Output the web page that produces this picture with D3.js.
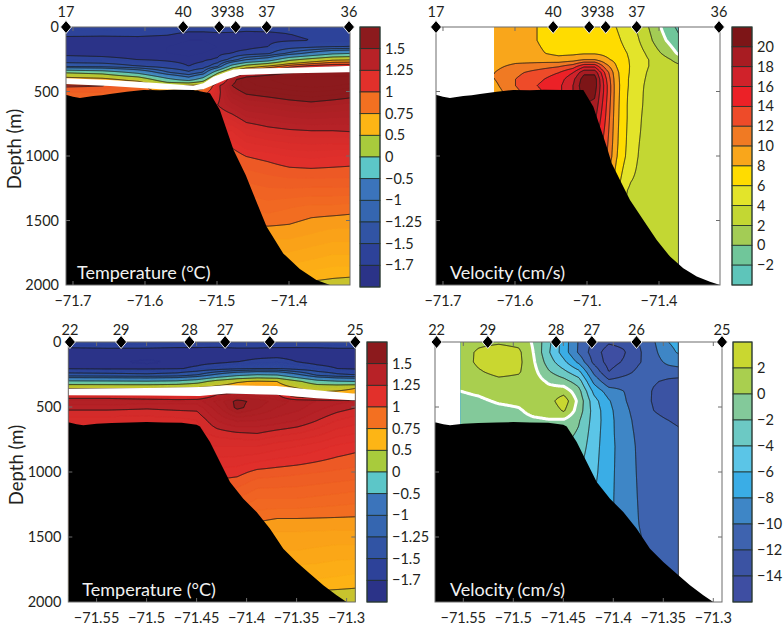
<!DOCTYPE html>
<html>
<head>
<meta charset="utf-8">
<script src="https://cdn.jsdelivr.net/npm/d3@7"></script>
<style>
  body { margin: 0; background: #fff; }
  text { font-family: Lato, "Open Sans", sans-serif; fill: #231f20; }
</style>
</head>
<body>
<script>
// ---------- Section A (stations 17-36) ----------
const stationLabelsA = ["17", "40", "39", "38", "37", "36"];
const stationLonA = [-71.7097, -71.547, -71.497, -71.474, -71.431, -71.3167];
const lonTicksA = [-71.7, -71.6, -71.5, -71.4];
const lonTickLabelsTempA = ["−71.7", "−71.6", "−71.5", "−71.4"];
const lonTickLabelsVelA = ["−71.7", "−71.6", "−71.", "−71.4"];

// Seafloor depth along section A (temperature grid)
const bathyLonTempA = [-71.72, -71.7088, -71.70, -71.6903, -71.6718, -71.66, -71.6486, -71.6254, -71.6024, -71.5792, -71.56, -71.5329, -71.5097, -71.496, -71.477, -71.46, -71.45, -71.431, -71.408, -71.385, -71.362, -71.343, -71.30];
const bathyDepTempA = [527, 527, 540, 550, 535, 530, 519, 501, 488, 490, 486, 488, 514, 643, 953, 1150, 1289, 1548, 1755, 1876, 1961, 2000, 2000];
// Seafloor depth along section A (velocity grid)
const bathyLonVelA = [-71.72, -71.7088, -71.70, -71.6903, -71.6718, -71.66, -71.6486, -71.6254, -71.6024, -71.5792, -71.56, -71.5329, -71.5051, -71.4912, -71.4819, -71.4726, -71.4657, -71.4542, -71.4403, -71.4218, -71.4032, -71.3847, -71.3663, -71.3476, -71.3292, -71.3153, -71.30];
const bathyDepVelA = [527, 527, 540, 550, 535, 530, 519, 501, 488, 490, 486, 488, 488, 618, 773, 928, 1057, 1186, 1341, 1496, 1651, 1780, 1870, 1935, 1974, 2000, 2000];

// Gap between upper and lower temperature records, section A
const bandLonA = [-71.72, -71.7088, -71.6486, -71.5792, -71.533, -71.519, -71.505, -71.4865, -71.477, -71.468, -71.394, -71.32, -71.30];
const bandTopA = [398, 398, 411, 437, 455, 437, 385, 346, 330, 325, 315, 302, 302];
const bandBotA = [442, 442, 457, 483, 490, 483, 450, 405, 390, 372, 359, 351, 351];

// Temperature (°C), section A
const tempLonA = [-71.715, -71.66, -71.61, -71.57, -71.54, -71.52, -71.50, -71.48, -71.46, -71.43, -71.40, -71.37, -71.34, -71.31];
const tempDepA = [0, 50, 100, 150, 200, 250, 300, 350, 400, 450, 500, 600, 800, 1000, 1200, 1400, 1600, 1800, 2000];
const tempA = [
  [-1.62, -1.63, -1.64, -1.64, -1.66, -1.66, -1.66, -1.67, -1.67, -1.66, -1.65, -1.64, -1.64, -1.63],
  [-1.68, -1.69, -1.68, -1.69, -1.72, -1.72, -1.71, -1.71, -1.72, -1.72, -1.70, -1.69, -1.68, -1.68],
  [-1.73, -1.72, -1.73, -1.74, -1.75, -1.75, -1.74, -1.74, -1.73, -1.72, -1.71, -1.70, -1.69, -1.68],
  [-1.75, -1.74, -1.75, -1.75, -1.76, -1.76, -1.75, -1.74, -1.74, -1.70, -1.60, -1.55, -1.50, -1.48],
  [-1.72, -1.73, -1.74, -1.75, -1.76, -1.75, -1.74, -1.70, -1.65, -1.55, -1.20, -0.90, -0.60, -0.50],
  [-1.66, -1.67, -1.70, -1.72, -1.74, -1.72, -1.68, -1.40, -1.00, -0.75, -0.10, 0.20, 0.45, 0.50],
  [-1.30, -1.35, -1.50, -1.62, -1.70, -1.65, -1.30, -0.30, 0.20, 0.55, 0.90, 1.10, 1.20, 1.20],
  [0.00, -0.15, -0.60, -1.20, -1.45, -1.20, -0.10, 0.80, 1.30, 1.40, 1.50, 1.55, 1.60, 1.60],
  [0.70, 0.60, 0.30, -0.40, -0.80, -0.30, 0.80, 1.45, 1.60, 1.65, 1.68, 1.70, 1.70, 1.70],
  [1.03, 1.01, 0.88, 0.40, 0.55, 0.60, 1.20, 1.50, 1.58, 1.62, 1.65, 1.67, 1.66, 1.62],
  [0.90, 0.90, 0.86, 0.70, 0.65, 0.90, 1.20, 1.45, 1.52, 1.55, 1.58, 1.60, 1.58, 1.55],
  [0.88, 0.88, 0.85, 0.75, 0.80, 1.00, 1.25, 1.33, 1.40, 1.42, 1.45, 1.47, 1.45, 1.43],
  [0.88, 0.88, 0.85, 0.80, 0.90, 1.00, 1.10, 1.10, 1.18, 1.22, 1.24, 1.25, 1.25, 1.26],
  [0.85, 0.85, 0.85, 0.85, 0.90, 0.95, 0.95, 0.95, 1.00, 1.02, 1.05, 1.06, 1.05, 1.04],
  [0.85, 0.85, 0.85, 0.85, 0.88, 0.88, 0.88, 0.88, 0.90, 0.92, 0.93, 0.93, 0.93, 0.93],
  [0.80, 0.80, 0.80, 0.80, 0.80, 0.80, 0.80, 0.80, 0.80, 0.82, 0.80, 0.78, 0.78, 0.77],
  [0.72, 0.72, 0.72, 0.72, 0.72, 0.72, 0.72, 0.72, 0.72, 0.72, 0.72, 0.70, 0.68, 0.68],
  [0.62, 0.62, 0.62, 0.62, 0.62, 0.62, 0.62, 0.62, 0.62, 0.62, 0.62, 0.60, 0.58, 0.58],
  [0.50, 0.50, 0.50, 0.50, 0.50, 0.50, 0.50, 0.50, 0.50, 0.50, 0.50, 0.48, 0.47, 0.46]
];

// Velocity (cm/s), section A
const velLonA = [-71.629, -71.60, -71.57, -71.54, -71.52, -71.505, -71.49, -71.475, -71.46, -71.445, -71.43, -71.415, -71.40, -71.373];
const velDepA = [0, 100, 200, 250, 300, 350, 400, 450, 500, 600, 700, 800, 900, 1000, 1200, 1500, 2000];
const velA = [
  [9.0, 8.8, 8.0, 7.0, 7.0, 7.0, 7.0, 6.8, 6.0, 4.8, 3.7, 2.0, 0.2, -2.5],
  [9.0, 8.8, 8.0, 7.0, 7.0, 7.0, 7.2, 7.2, 6.5, 5.3, 4.2, 2.6, 0.8, -1.5],
  [9.0, 9.0, 8.3, 7.5, 7.6, 7.8, 7.8, 7.5, 7.0, 6.0, 4.8, 3.6, 2.2, -0.3],
  [9.0, 9.3, 9.2, 8.8, 9.2, 10.0, 10.0, 8.5, 7.4, 6.2, 5.0, 4.0, 3.2, 1.2],
  [9.5, 10.5, 11.0, 11.8, 13.0, 15.5, 15.5, 11.0, 8.0, 6.3, 5.0, 4.0, 3.4, 2.4],
  [10.0, 11.5, 12.8, 14.0, 16.0, 19.5, 19.5, 13.5, 8.5, 6.3, 4.8, 3.8, 3.3, 2.8],
  [10.0, 12.0, 13.5, 15.0, 17.5, 21.0, 21.0, 14.5, 8.7, 6.2, 4.6, 3.7, 3.2, 3.0],
  [9.5, 12.0, 14.0, 15.5, 18.0, 21.5, 21.0, 15.0, 8.8, 6.2, 4.5, 3.6, 3.2, 3.0],
  [9.0, 11.5, 13.5, 15.5, 18.0, 21.0, 20.5, 15.0, 8.8, 6.1, 4.5, 3.5, 3.2, 3.0],
  [9.0, 11.5, 13.5, 15.5, 18.0, 20.0, 19.5, 14.5, 8.7, 6.0, 4.4, 3.5, 3.1, 3.0],
  [9.0, 11.5, 13.5, 15.5, 17.5, 19.0, 18.5, 14.0, 8.6, 6.0, 4.3, 3.4, 3.1, 3.0],
  [9.0, 11.5, 13.5, 15.5, 17.0, 18.0, 17.5, 13.5, 8.5, 5.9, 4.2, 3.4, 3.1, 3.0],
  [9.0, 11.5, 13.5, 15.0, 16.0, 17.0, 16.5, 13.0, 8.4, 5.8, 4.1, 3.3, 3.0, 3.0],
  [9.0, 11.0, 13.0, 14.0, 15.0, 15.5, 15.0, 12.5, 8.2, 5.6, 4.0, 3.3, 3.0, 3.0],
  [8.0, 10.0, 12.0, 12.0, 12.0, 12.0, 11.5, 10.0, 7.0, 4.2, 3.6, 3.2, 3.0, 3.0],
  [3.5, 3.5, 3.5, 3.5, 3.5, 3.5, 3.5, 3.5, 3.4, 3.3, 3.2, 3.1, 3.0, 3.0],
  [3.0, 3.0, 3.0, 3.0, 3.0, 3.0, 3.0, 3.0, 3.0, 3.0, 3.0, 3.0, 3.0, 3.0]
];

// ---------- Section B (stations 22-25) ----------
const stationLabelsB = ["22", "29", "28", "27", "26", "25"];
const stationLonB = [-71.5767, -71.5255, -71.4572, -71.4215, -71.3768, -71.2913];
const lonTicksB = [-71.55, -71.5, -71.45, -71.4, -71.35, -71.3];
const lonTickLabelsB = ["−71.55", "−71.5", "−71.45", "−71.4", "−71.35", "−71.3"];

const bathyLonB = [-71.59, -71.5773, -71.57, -71.5633, -71.55, -71.535, -71.5166, -71.50, -71.4833, -71.465, -71.45, -71.4466, -71.4366, -71.4266, -71.4166, -71.4033, -71.39, -71.3766, -71.3633, -71.35, -71.3366, -71.3233, -71.31, -71.30, -71.28];
const bathyDepB = [620, 620, 632, 641, 628, 624, 620, 616, 620, 622, 636, 650, 769, 923, 1077, 1205, 1308, 1436, 1590, 1692, 1782, 1872, 1949, 2000, 2000];

const bandLonB = [-71.59, -71.5773, -71.50, -71.4467, -71.42, -71.37, -71.33, -71.294, -71.28];
const bandTopB = [359, 359, 353, 346, 333, 338, 372, 397, 397];
const bandBotB = [410, 410, 412, 415, 397, 405, 432, 448, 448];

// Temperature (°C), section B
const tempLonB = [-71.58, -71.54, -71.50, -71.47, -71.45, -71.43, -71.41, -71.39, -71.37, -71.35, -71.33, -71.31, -71.29];
const tempDepB = [0, 50, 100, 150, 200, 250, 300, 350, 400, 450, 500, 600, 700, 800, 1000, 1200, 1400, 1600, 1800, 2000];
const tempB = [
  [-1.62, -1.62, -1.63, -1.63, -1.63, -1.64, -1.64, -1.64, -1.63, -1.63, -1.62, -1.62, -1.62],
  [-1.72, -1.71, -1.71, -1.72, -1.72, -1.72, -1.71, -1.71, -1.72, -1.72, -1.72, -1.71, -1.71],
  [-1.74, -1.73, -1.73, -1.74, -1.74, -1.73, -1.73, -1.72, -1.72, -1.73, -1.74, -1.74, -1.74],
  [-1.73, -1.74, -1.76, -1.74, -1.73, -1.72, -1.70, -1.68, -1.66, -1.70, -1.73, -1.74, -1.74],
  [-1.71, -1.72, -1.72, -1.71, -1.68, -1.62, -1.55, -1.50, -1.50, -1.60, -1.66, -1.70, -1.72],
  [-1.40, -1.42, -1.45, -1.40, -1.25, -0.90, -0.60, -0.45, -0.50, -0.90, -1.30, -1.45, -1.50],
  [-0.40, -0.42, -0.45, -0.40, -0.20, 0.20, 0.45, 0.55, 0.50, 0.10, -0.30, -0.45, -0.50],
  [0.45, 0.45, 0.45, 0.50, 0.55, 0.65, 0.75, 0.75, 0.70, 0.50, 0.35, 0.40, 0.50],
  [1.10, 1.10, 1.05, 1.00, 1.00, 1.25, 1.38, 1.38, 1.30, 0.70, 0.60, 0.62, 0.65],
  [1.35, 1.35, 1.33, 1.32, 1.33, 1.42, 1.52, 1.48, 1.43, 1.38, 1.35, 1.32, 1.30],
  [1.27, 1.27, 1.26, 1.27, 1.27, 1.38, 1.52, 1.46, 1.40, 1.37, 1.32, 1.28, 1.25],
  [1.17, 1.17, 1.17, 1.18, 1.20, 1.30, 1.36, 1.35, 1.33, 1.30, 1.25, 1.20, 1.17],
  [1.15, 1.15, 1.15, 1.16, 1.18, 1.22, 1.24, 1.25, 1.22, 1.20, 1.17, 1.12, 1.10],
  [1.12, 1.12, 1.12, 1.12, 1.14, 1.15, 1.15, 1.15, 1.12, 1.10, 1.07, 1.04, 1.02],
  [1.05, 1.05, 1.05, 1.05, 1.05, 1.03, 1.02, 0.98, 0.97, 0.96, 0.95, 0.94, 0.93],
  [0.95, 0.95, 0.95, 0.95, 0.95, 0.92, 0.90, 0.85, 0.85, 0.85, 0.84, 0.83, 0.82],
  [0.80, 0.80, 0.80, 0.80, 0.80, 0.78, 0.76, 0.74, 0.72, 0.72, 0.72, 0.72, 0.72],
  [0.68, 0.68, 0.68, 0.68, 0.68, 0.67, 0.66, 0.65, 0.65, 0.65, 0.64, 0.63, 0.63],
  [0.58, 0.58, 0.58, 0.58, 0.58, 0.57, 0.57, 0.57, 0.56, 0.56, 0.56, 0.55, 0.54],
  [0.47, 0.47, 0.47, 0.47, 0.47, 0.47, 0.47, 0.46, 0.46, 0.46, 0.45, 0.45, 0.45]
];

// Velocity (cm/s), section B
const velLonB = [-71.5527, -71.535, -71.515, -71.495, -71.48, -71.465, -71.45, -71.435, -71.42, -71.405, -71.39, -71.375, -71.36, -71.345, -71.335];
const velDepB = [0, 75, 150, 225, 300, 375, 450, 525, 600, 700, 800, 1000, 1200, 1400, 1600, 1800, 2000];
const velB = [
  [1.0, 1.6, 1.8, 1.5, -0.3, -3.5, -7.0, -10.2, -12.5, -13.8, -13.5, -12.0, -10.2, -8.0, -7.5],
  [1.2, 2.3, 2.9, 2.4, -0.1, -3.8, -7.0, -10.3, -13.0, -15.0, -14.2, -12.3, -10.5, -8.5, -7.8],
  [1.1, 2.4, 3.0, 2.5, 0.2, -3.0, -5.5, -8.5, -12.5, -14.8, -13.8, -12.2, -10.8, -9.5, -9.0],
  [0.8, 1.8, 2.6, 2.2, 0.6, -1.8, -3.5, -5.5, -10.5, -14.0, -12.8, -11.5, -10.8, -11.0, -11.0],
  [0.5, 1.0, 1.5, 1.4, 1.0, -0.3, -1.2, -3.0, -8.5, -11.5, -11.0, -10.8, -11.8, -12.4, -12.6],
  [0.0, 0.3, 0.9, 1.0, 1.2, 0.8, 1.2, -1.3, -6.5, -9.0, -10.0, -10.8, -12.2, -12.8, -13.0],
  [-0.5, -0.3, 0.2, 0.4, 1.2, 1.2, 3.2, -0.6, -5.2, -7.8, -9.8, -11.0, -12.2, -12.8, -13.0],
  [-0.8, -0.8, -0.5, -0.2, 0.5, 0.7, 2.2, -1.0, -4.8, -7.4, -9.5, -10.8, -12.0, -12.5, -12.7],
  [-1.0, -1.0, -0.8, -0.5, -0.3, -0.1, -0.3, -1.8, -4.8, -7.3, -9.3, -10.6, -11.6, -12.0, -12.2],
  [-1.0, -1.0, -1.0, -0.8, -0.8, -1.0, -1.2, -2.3, -5.0, -7.3, -9.2, -10.4, -11.2, -11.6, -11.8],
  [-1.0, -1.0, -1.0, -1.0, -1.0, -1.5, -2.0, -2.8, -5.2, -7.3, -9.0, -10.3, -11.0, -11.4, -11.5],
  [-1.0, -1.0, -1.0, -1.0, -1.5, -2.0, -3.0, -4.0, -5.5, -7.4, -9.0, -10.2, -10.8, -11.2, -11.3],
  [-1.0, -1.0, -1.0, -1.0, -2.0, -3.0, -4.0, -5.0, -6.0, -7.5, -9.0, -10.1, -10.6, -11.0, -11.1],
  [-1.0, -1.0, -1.0, -1.0, -2.0, -3.0, -4.0, -5.0, -6.0, -7.5, -9.0, -10.0, -10.5, -11.0, -11.0],
  [-1.0, -1.0, -1.0, -1.0, -2.0, -3.0, -4.0, -5.0, -6.0, -7.5, -9.0, -9.8, -10.4, -11.0, -11.2],
  [-1.0, -1.0, -1.0, -1.0, -2.0, -3.0, -4.0, -5.0, -6.0, -7.5, -9.0, -9.8, -10.3, -11.0, -11.2],
  [-1.0, -1.0, -1.0, -1.0, -2.0, -3.0, -4.0, -5.0, -6.0, -7.5, -9.0, -9.8, -10.3, -11.0, -11.0]
];

// ---------- Colour classes ----------
const depthTicks = [0, 500, 1000, 1500, 2000];

const tempLevels = [-1.7, -1.5, -1.25, -1, -0.5, 0, 0.5, 0.75, 1, 1.25, 1.5];
const tempColors = ["#2b3388", "#2d4299", "#3154a4", "#3566b0", "#3b74bb", "#5cc6c8", "#a8cb3c", "#fdb515", "#f37021", "#e2302b", "#b82227", "#8c1a1d"];
const tempLabels = ["1.5", "1.25", "1", "0.75", "0.5", "0", "−0.5", "−1", "−1.25", "−1.5", "−1.7"];

const velLevelsA = [-2, 0, 2, 4, 6, 8, 10, 12, 14, 16, 18, 20];
const velColorsA = ["#5ec5ba", "#70c69a", "#a3cc55", "#c3d733", "#e3e42a", "#ffdc00", "#f9a61b", "#f07a23", "#ee4b29", "#ec2127", "#d0222a", "#a81c22", "#7d1517"];
const velLabelsA = ["20", "18", "16", "14", "12", "10", "8", "6", "4", "2", "0", "−2"];

const velLevelsB = [-14, -12, -10, -8, -6, -4, -2, 0, 2];
const velColorsB = ["#3e4ea2", "#3b53a3", "#3e63af", "#3e86c6", "#3aade6", "#5bc5e7", "#6cc9c4", "#83c99a", "#a9cf4f", "#c9d730"];
const velLabelsB = ["2", "0", "−2", "−4", "−6", "−8", "−10", "−12", "−14"];

// ---------- Drawing ----------
const svg = d3.select("body").append("svg").attr("width", 783).attr("height", 632);
const defs = svg.append("defs");
let clipN = 0;
function clipUrl(x, y, w, h) {
  const id = "clip" + (clipN++);
  defs.append("clipPath").attr("id", id)
    .append("rect").attr("x", x).attr("y", y).attr("width", w).attr("height", h);
  return `url(#${id})`;
}

// Bilinear lookup in a (depth x lon) table
function gridField(lons, deps, grid) {
  return (lon, dep) => {
    let i = d3.bisectRight(lons, lon) - 1;
    i = Math.max(0, Math.min(lons.length - 2, i));
    let j = d3.bisectRight(deps, dep) - 1;
    j = Math.max(0, Math.min(deps.length - 2, j));
    const tx = Math.max(0, Math.min(1, (lon - lons[i]) / (lons[i + 1] - lons[i])));
    const ty = Math.max(0, Math.min(1, (dep - deps[j]) / (deps[j + 1] - deps[j])));
    const a = grid[j][i] * (1 - tx) + grid[j][i + 1] * tx;
    const b = grid[j + 1][i] * (1 - tx) + grid[j + 1][i + 1] * tx;
    return a * (1 - ty) + b * ty;
  };
}

function drawSection(p) {
  const x = d3.scaleLinear().domain(p.lonDomain).range([p.left, p.right]);
  const y = d3.scaleLinear().domain([0, 2000]).range([p.top, p.bottom]);
  const g = svg.append("g");

  const lo = p.lons[0], hi = p.lons[p.lons.length - 1];
  const dL = Math.max(p.left, x(lo)), dR = Math.min(p.right, x(hi));
  const gx0 = Math.floor(dL) - 3, gx1 = Math.ceil(dR) + 3;
  const gy0 = Math.floor(p.top) - 3, gy1 = Math.ceil(p.bottom) + 3;
  const n = gx1 - gx0 + 1, m = gy1 - gy0 + 1;
  const f = gridField(p.lons, p.deps, p.grid);
  const values = new Array(n * m);
  for (let j = 0; j < m; j++) {
    const dep = Math.max(0, Math.min(2000, y.invert(gy0 + j)));
    for (let i = 0; i < n; i++) {
      const lon = Math.max(lo, Math.min(hi, x.invert(gx0 + i)));
      values[j * n + i] = f(lon, dep);
    }
  }
  const path = d3.geoPath();
  const dataG = g.append("g").attr("clip-path", clipUrl(dL, p.top, dR - dL, p.bottom - p.top))
    .append("g").attr("transform", `translate(${gx0},${gy0})`);

  dataG.append("rect").attr("width", n).attr("height", m).attr("fill", p.baseColor);
  const filled = d3.contours().size([n, m]).thresholds(p.fillLevels)(values);
  dataG.selectAll("path.fill").data(filled).join("path")
    .attr("class", "fill")
    .attr("d", path)
    .attr("fill", d => p.fillColor(d.value))
    .attr("stroke", d => p.fillColor(d.value))
    .attr("stroke-width", 0.4);

  const lines = d3.contours().size([n, m]).thresholds(p.lineLevels)(values);
  dataG.selectAll("path.iso").data(lines).join("path")
    .attr("class", "iso")
    .attr("d", path)
    .attr("fill", "none")
    .attr("stroke", d => (p.whiteZero && d.value === 0) ? "#fff" : "#1a1a1a")
    .attr("stroke-width", d => (p.whiteZero && d.value === 0) ? 3 : 0.9)
    .attr("stroke-linejoin", "round");

  if (p.edgeLine) {
    g.append("line").attr("x1", dR).attr("x2", dR).attr("y1", p.top).attr("y2", p.bottom)
      .attr("stroke", "#333").attr("stroke-width", 0.9);
  }

  const boxClip = clipUrl(p.left, p.top, p.right - p.left, p.bottom - p.top);
  if (p.band) {
    const pts = p.band.lon.map((l, k) => [x(l), y(p.band.top[k])])
      .concat(p.band.lon.map((l, k) => [x(l), y(p.band.bot[k])]).reverse());
    g.append("path").attr("clip-path", boxClip)
      .attr("d", d3.line()(pts) + "Z").attr("fill", "#fff");
  }
  const bpts = p.bathy.lon.map((l, k) => [x(l), y(p.bathy.dep[k])]);
  bpts.push([x(p.bathy.lon[p.bathy.lon.length - 1]), p.bottom + 5]);
  bpts.push([x(p.bathy.lon[0]), p.bottom + 5]);
  g.append("path").attr("clip-path", boxClip)
    .attr("d", d3.line()(bpts) + "Z").attr("fill", "#000");

  g.append("rect").attr("x", p.left).attr("y", p.top)
    .attr("width", p.right - p.left).attr("height", p.bottom - p.top)
    .attr("fill", "none").attr("stroke", "#6d6d6d").attr("stroke-width", 1);
  const tk = 4;
  p.lonTicks.forEach(t => {
    const xx = x(t);
    g.append("line").attr("x1", xx).attr("x2", xx).attr("y1", p.top).attr("y2", p.top + tk).attr("stroke", "#6d6d6d");
    g.append("line").attr("x1", xx).attr("x2", xx).attr("y1", p.bottom).attr("y2", p.bottom - tk).attr("stroke", "#6d6d6d");
  });
  depthTicks.slice(1, -1).forEach(t => {
    const yy = y(t);
    g.append("line").attr("x1", p.left).attr("x2", p.left + tk).attr("y1", yy).attr("y2", yy).attr("stroke", "#6d6d6d");
    g.append("line").attr("x1", p.right).attr("x2", p.right - tk).attr("y1", yy).attr("y2", yy).attr("stroke", "#6d6d6d");
  });

  g.selectAll("text.lon").data(p.lonTicks).join("text")
    .attr("class", "lon")
    .attr("x", d => x(d)).attr("y", p.bottom + 21)
    .attr("text-anchor", "middle").attr("font-size", 14.5)
    .text((d, k) => p.lonLabels[k]);

  if (p.depthLabels) {
    g.selectAll("text.dep").data(depthTicks).join("text")
      .attr("class", "dep")
      .attr("x", p.left - 7).attr("y", d => y(d)).attr("dy", "0.35em")
      .attr("text-anchor", "end").attr("font-size", 14.5)
      .text(d => d);
    g.append("text")
      .attr("transform", `translate(${p.left - 45},${(p.top + p.bottom) / 2 - 7}) rotate(-90)`)
      .attr("text-anchor", "middle").attr("font-size", 18.5)
      .text("Depth (m)");
  }

  const diamond = "M0,-6.5L5.5,0L0,6.5L-5.5,0Z";
  p.stations.forEach((s, k) => {
    const xx = x(p.stationLon[k]);
    g.append("path").attr("d", diamond).attr("transform", `translate(${xx},${p.top})`)
      .attr("fill", "#000").attr("stroke", "#fff").attr("stroke-width", 0.9);
    g.append("text").attr("x", xx).attr("y", p.top - p.stationGap)
      .attr("text-anchor", "middle").attr("font-size", 14.5).text(s);
  });

  g.append("text").attr("x", p.left + p.titleDx).attr("y", p.bottom - 6)
    .attr("font-size", 18).style("fill", "#f2f2f2").text(p.title);
}

function drawColorbar(cb) {
  const nb = cb.colors.length;
  const h = (cb.bottom - cb.top) / nb;
  const g = svg.append("g");
  cb.colors.slice().reverse().forEach((c, k) => {
    g.append("rect").attr("x", cb.left).attr("y", cb.top + k * h)
      .attr("width", cb.right - cb.left).attr("height", h)
      .attr("fill", c).attr("stroke", "#1e2e28").attr("stroke-width", 0.8);
  });
  g.append("rect").attr("x", cb.left).attr("y", cb.top)
    .attr("width", cb.right - cb.left).attr("height", cb.bottom - cb.top)
    .attr("fill", "none").attr("stroke", "#2c3d35").attr("stroke-width", 1);
  cb.labels.forEach((t, k) => {
    g.append("text").attr("x", cb.right + 5).attr("y", cb.top + (k + 1) * h)
      .attr("dy", "0.35em").attr("font-size", 14.5).text(t);
  });
}

// Temperature shading: each class keeps its colour, drifting a little
// toward the next warmer class near its upper bound.
const tempFillLevels = d3.range(-1.85, 1.76, 0.05).map(v => +v.toFixed(3));
function tempFill(v) {
  const mid = v + 0.025;
  const k = d3.bisectRight(tempLevels, mid);
  if (k === 0 || k >= tempColors.length - 1) return tempColors[k];
  const a = tempLevels[k - 1], b = tempLevels[k];
  const t = (mid - a) / (b - a);
  return d3.interpolateRgb(tempColors[k], tempColors[k + 1])(0.4 * t);
}

function classColor(levels, colors) {
  return v => colors[d3.bisectRight(levels, v + 1e-9)];
}

const layoutA = { top: 27, bottom: 285, lonDomain: [-71.7097, -71.3153] };
const layoutB = { top: 342, bottom: 602, lonDomain: [-71.5783, -71.2913] };

drawSection({
  ...layoutA, left: 66, right: 350,
  lons: tempLonA, deps: tempDepA, grid: tempA,
  fillLevels: tempFillLevels, fillColor: tempFill, baseColor: tempColors[0],
  lineLevels: tempLevels, whiteZero: false,
  band: { lon: bandLonA, top: bandTopA, bot: bandBotA },
  bathy: { lon: bathyLonTempA, dep: bathyDepTempA },
  lonTicks: lonTicksA, lonLabels: lonTickLabelsTempA, depthLabels: true,
  stations: stationLabelsA, stationLon: stationLonA, stationGap: 10,
  title: "Temperature (°C)", titleDx: 11
});
drawSection({
  ...layoutA, left: 436, right: 720,
  lons: velLonA, deps: velDepA, grid: velA,
  fillLevels: velLevelsA, fillColor: classColor(velLevelsA, velColorsA), baseColor: velColorsA[0],
  lineLevels: velLevelsA, whiteZero: true, edgeLine: true,
  bathy: { lon: bathyLonVelA, dep: bathyDepVelA },
  lonTicks: lonTicksA, lonLabels: lonTickLabelsVelA, depthLabels: false,
  stations: stationLabelsA, stationLon: stationLonA, stationGap: 10,
  title: "Velocity (cm/s)", titleDx: 14
});
drawSection({
  ...layoutB, left: 68.3, right: 355.3,
  lons: tempLonB, deps: tempDepB, grid: tempB,
  fillLevels: tempFillLevels, fillColor: tempFill, baseColor: tempColors[0],
  lineLevels: tempLevels, whiteZero: false,
  band: { lon: bandLonB, top: bandTopB, bot: bandBotB },
  bathy: { lon: bathyLonB, dep: bathyDepB },
  lonTicks: lonTicksB, lonLabels: lonTickLabelsB, depthLabels: true,
  stations: stationLabelsB, stationLon: stationLonB, stationGap: 7,
  title: "Temperature (°C)", titleDx: 14
});
drawSection({
  ...layoutB, left: 435, right: 722,
  lons: velLonB, deps: velDepB, grid: velB,
  fillLevels: velLevelsB, fillColor: classColor(velLevelsB, velColorsB), baseColor: velColorsB[0],
  lineLevels: velLevelsB, whiteZero: true, edgeLine: true,
  bathy: { lon: bathyLonB, dep: bathyDepB },
  lonTicks: lonTicksB, lonLabels: lonTickLabelsB, depthLabels: false,
  stations: stationLabelsB, stationLon: stationLonB, stationGap: 7,
  title: "Velocity (cm/s)", titleDx: 15
});

drawColorbar({ left: 360, right: 380, top: 27, bottom: 287, colors: tempColors, labels: tempLabels });
drawColorbar({ left: 732, right: 752, top: 27, bottom: 285, colors: velColorsA, labels: velLabelsA });
drawColorbar({ left: 367, right: 387, top: 342, bottom: 602, colors: tempColors, labels: tempLabels });
drawColorbar({ left: 733, right: 752, top: 342, bottom: 602, colors: velColorsB, labels: velLabelsB });
</script>
</body>
</html>
